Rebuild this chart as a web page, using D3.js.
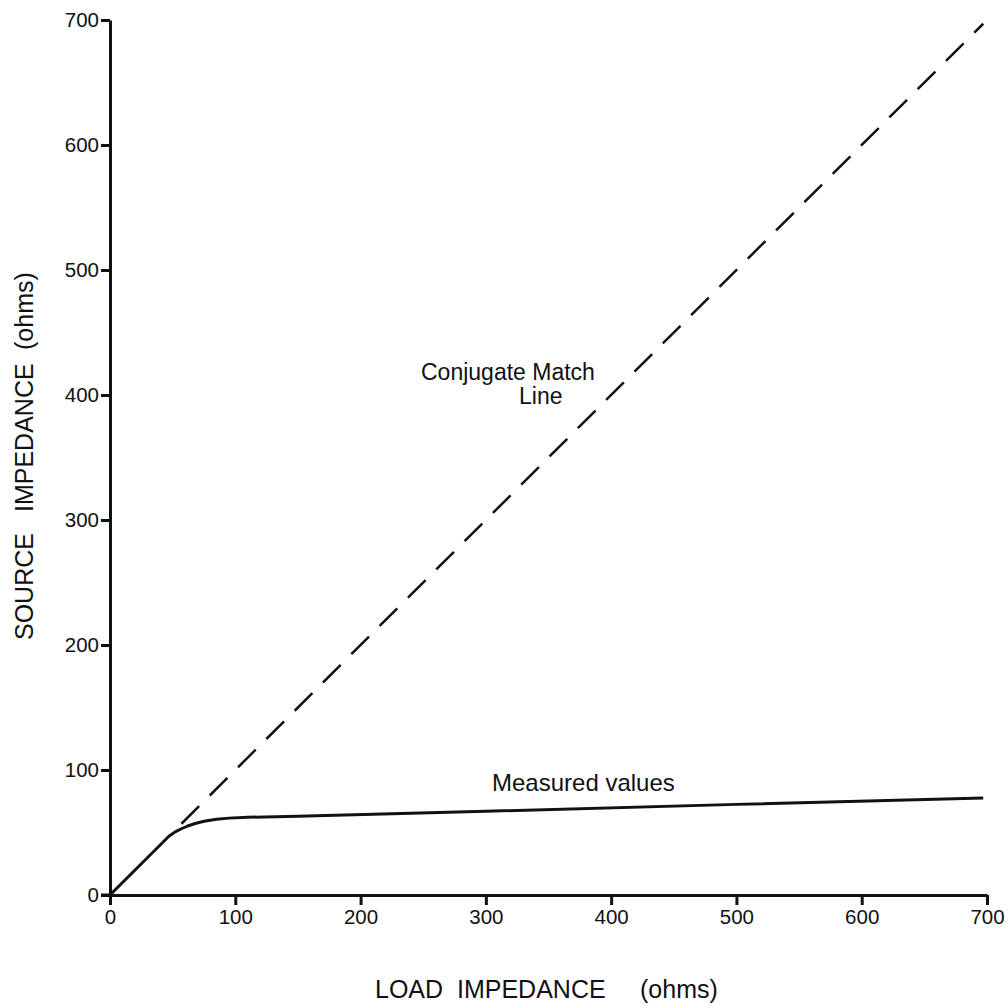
<!DOCTYPE html>
<html>
<head>
<meta charset="utf-8">
<script src="https://cdn.jsdelivr.net/npm/d3@7"></script>
<style>
	html, body { margin: 0; padding: 0; background: #fff; }
	svg { display: block; font-family: "Liberation Sans", Arial, sans-serif; }
</style>
</head>
<body>
<div id="chart"></div>
<script>
	// tick values on both axes
	var xTicks = [0, 100, 200, 300, 400, 500, 600, 700];
	var yTicks = [0, 100, 200, 300, 400, 500, 600, 700];

	// measured curve (load ohms, source ohms)
	var measuredLoad = [0, 47, 52, 57, 62, 68, 75, 85, 95, 110, 150, 300, 500, 697];
	var measuredSource = [0, 47, 50.5, 53, 55.2, 57.2, 59, 60.6, 61.5, 62.2, 63, 67, 72.5, 77.6];

	// conjugate match line, drawn dashed from where it leaves the curve
	var matchLoad = [57, 697];
	var matchSource = [57, 697];

	var width = 1008, height = 1004;

	var svg = d3.select('#chart').append('svg')
		.attr('width', width)
		.attr('height', height);

	var x = d3.scaleLinear().domain([0, 700]).range([110, 987]);
	var y = d3.scaleLinear().domain([0, 700]).range([895, 20]);

	// x axis, ticks pointing down
	var xAxis = svg.append('g')
		.attr('transform', 'translate(0,' + y(0) + ')')
		.call(d3.axisBottom(x).tickValues(xTicks).tickSize(10).tickSizeOuter(0).tickPadding(4));

	// y axis, ticks pointing left
	var yAxis = svg.append('g')
		.attr('transform', 'translate(' + x(0) + ',0)')
		.call(d3.axisLeft(y).tickValues(yTicks).tickSize(9).tickSizeOuter(0).tickPadding(2));

	[xAxis, yAxis].forEach(function (ax) {
		ax.attr('font-size', 20.5).attr('font-family', '"Liberation Sans", Arial, sans-serif');
		ax.select('.domain').attr('stroke', '#111').attr('stroke-width', 3);
		ax.selectAll('.tick line').attr('stroke', '#111').attr('stroke-width', 3);
		ax.selectAll('.tick text').attr('fill', '#111');
	});

	// stretch the x axis a bit left so it meets the 0 tick of the y axis
	svg.append('line')
		.attr('x1', x(0) - 9).attr('x2', x(0))
		.attr('y1', y(0)).attr('y2', y(0))
		.attr('stroke', '#111').attr('stroke-width', 3);

	var line = d3.line()
		.x(function (d) { return x(d[0]); })
		.y(function (d) { return y(d[1]); });

	// dashed conjugate match line
	svg.append('path')
		.datum(d3.zip(matchLoad, matchSource))
		.attr('fill', 'none')
		.attr('stroke', '#111')
		.attr('stroke-width', 2.5)
		.attr('stroke-dasharray', '25 15')
		.attr('d', line);

	// measured values curve
	svg.append('path')
		.datum(d3.zip(measuredLoad, measuredSource))
		.attr('fill', 'none')
		.attr('stroke', '#111')
		.attr('stroke-width', 3)
		.attr('stroke-linejoin', 'round')
		.attr('d', line);

	// labels inside the plot
	var labels = svg.append('g')
		.attr('fill', '#111')
		.style('font-size', '23px');

	labels.append('text').attr('x', 421).attr('y', 380).text('Conjugate Match');
	labels.append('text').attr('x', 519).attr('y', 404).text('Line');
	labels.append('text').attr('x', 492).attr('y', 791).style('font-size', '24px').text('Measured values');

	// axis titles, words placed apart like the original lettering
	var xTitle = svg.append('text')
		.attr('y', 998)
		.attr('fill', '#111')
		.style('font-size', '25px');
	xTitle.append('tspan').attr('x', 375).text('LOAD');
	xTitle.append('tspan').attr('x', 457).text('IMPEDANCE');
	xTitle.append('tspan').attr('x', 640).text('(ohms)');

	var yTitle = svg.append('text')
		.attr('transform', 'translate(33,640) rotate(-90)')
		.attr('fill', '#111')
		.style('font-size', '25px');
	yTitle.append('tspan').attr('x', 0).text('SOURCE');
	yTitle.append('tspan').attr('x', 128).text('IMPEDANCE');
	yTitle.append('tspan').attr('x', 290).text('(ohms)');
</script>
</body>
</html>
